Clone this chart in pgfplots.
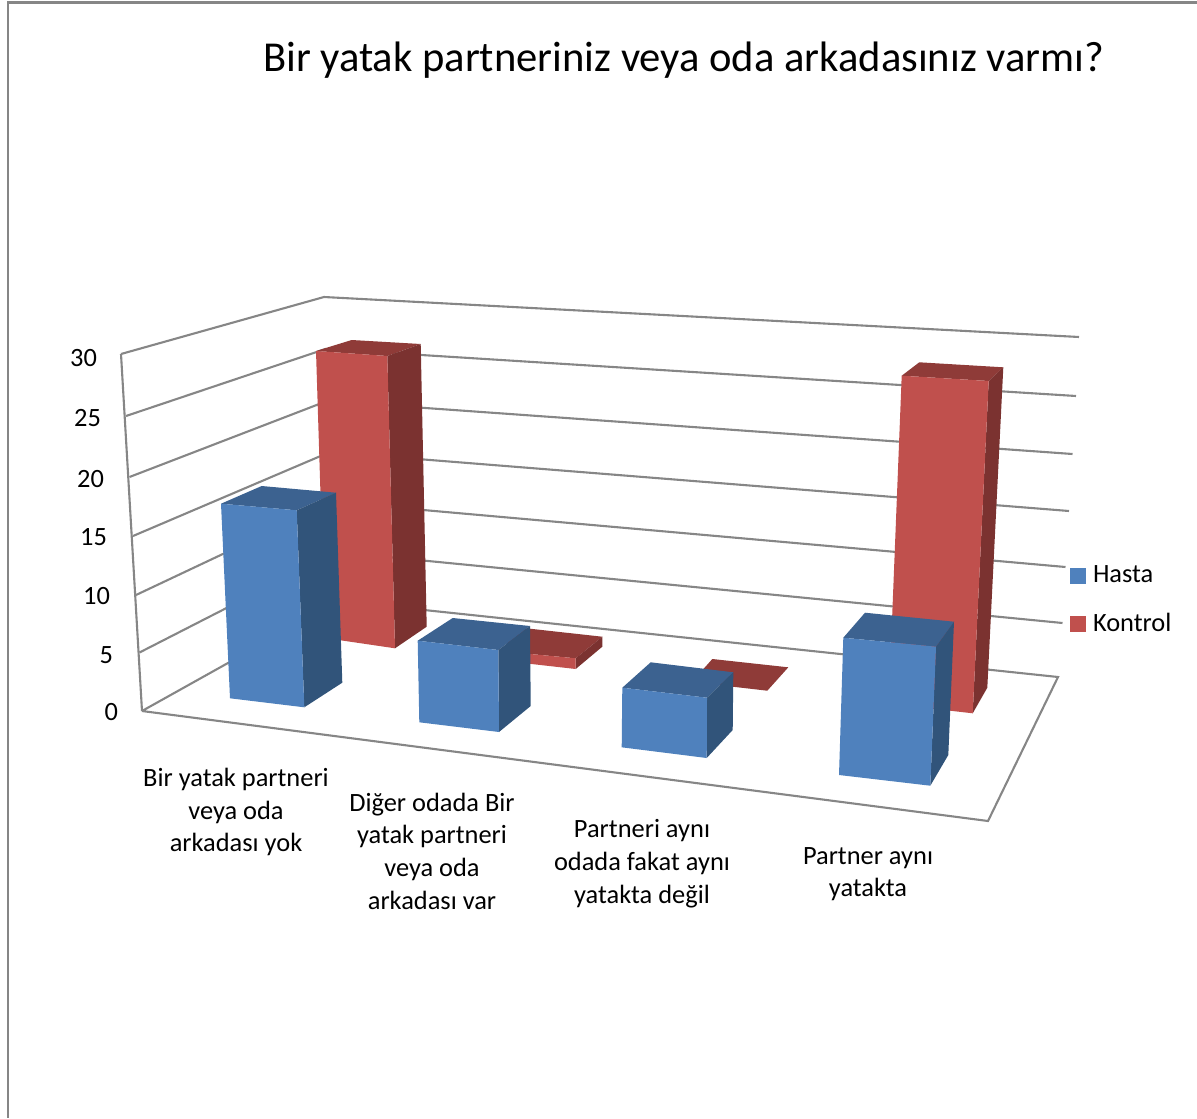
\documentclass[border=0pt]{standalone}
\usepackage{pgfplots}
\pgfplotsset{compat=1.18}
\usepackage{fontspec}
\setmainfont{Carlito}
\definecolor{gridgray}{HTML}{868686}
\definecolor{bluefront}{HTML}{4F81BD}
\definecolor{blueside}{HTML}{31547A}
\definecolor{bluetop}{HTML}{3C6290}
\definecolor{redfront}{HTML}{C0504D}
\definecolor{redside}{HTML}{7B3230}
\definecolor{redtop}{HTML}{8F3B38}
\pgfplotsset{
  wall/.style={draw=gridgray,line width=1.05pt,line join=miter,forget plot},
  front/.style={fill=#1front,draw=none,forget plot},
  side/.style={fill=#1side,draw=none,forget plot},
  top/.style={fill=#1top,draw=none,forget plot},
}
\newcommand{\ticknum}[2]{\node[anchor=east,font=\fontsize{13.2}{15}\selectfont] at (axis cs:#1) {#2};}
\newcommand{\catlabel}[2]{\node[align=center,font=\fontsize{13.2}{16.35}\selectfont] at (axis cs:#1) {#2};}
\begin{document}
\begin{tikzpicture}
\useasboundingbox (0,0) rectangle (598.5pt,559pt);
\begin{axis}[
  at={(0,0)},anchor=south west,
  width=598.5pt,height=559pt,scale only axis,
  xmin=0,xmax=1197,ymin=0,ymax=1118,y dir=reverse,
  hide axis,clip=false,
  legend style={at={(axis cs:1070,562)},anchor=north west,draw=none,fill=none,
    font=\fontsize{13.2}{15}\selectfont,row sep=9.5pt,
    inner sep=0pt,outer sep=0pt,cells={anchor=west},
    /tikz/every odd column/.append style={column sep=1.5pt}},
  legend cell align=left,
]
\addlegendimage{area legend,legend image code/.code={\fill[bluefront] (0pt,-3.85pt) rectangle (7.6pt,3.85pt);}}
\addlegendentry{Hasta}
\addlegendimage{area legend,legend image code/.code={\fill[redfront] (0pt,-3.85pt) rectangle (7.6pt,3.85pt);}}
\addlegendentry{Kontrol}

% chart border
\addplot[wall] coordinates {(1197,2.5) (8,2.5) (8,1118)};

% floor and left edge of the wall
\addplot[wall] coordinates {(142,711) (988,821) (1058,677) (339,601) (142,711)};
\addplot[wall] coordinates {(121,354) (142,711)};

% gridlines at 30, 25, 20, 15, 10, 5: side wall, then back wall
\addplot[wall] coordinates {(121,354) (324,297) (1079,337)};
\addplot[wall] coordinates {(126,416) (325.5,349) (1076,396)};
\addplot[wall] coordinates {(129.5,477) (327,401) (1072.5,454)};
\addplot[wall] coordinates {(133,536) (330,452) (1069,511)};
\addplot[wall] coordinates {(136,595) (333,502) (1065.5,567)};
\addplot[wall] coordinates {(139.5,652.5) (336,552) (1062.5,623)};

% Kontrol bars, furthest back
\addplot[top=red] coordinates {(316,351) (351.7,340) (420.7,344) (387.3,356)} -- cycle;
\addplot[side=red] coordinates {(387.3,356) (420.7,344) (426.7,626.7) (395,648.3)} -- cycle;
\addplot[front=red] coordinates {(316,351) (387.3,356) (395,648.3) (325,638)} -- cycle;

\addplot[top=red] coordinates {(505,651.6) (510,626.5) (602.3,636.7) (575.7,658.3)} -- cycle;
\addplot[side=red] coordinates {(575.7,658.3) (602.3,636.7) (602.3,646.7) (575.7,669)} -- cycle;
\addplot[front=red] coordinates {(505,651.6) (575.7,658.3) (575.7,669) (505,661)} -- cycle;

\addplot[top=red] coordinates {(691.8,682) (712.3,659) (788.3,667.3) (767.3,690.7)} -- cycle;

\addplot[top=red] coordinates {(901.7,375.7) (919.3,362.3) (1003.3,367.3) (988.7,381)} -- cycle;
\addplot[side=red] coordinates {(988.7,381) (1003.3,367.3) (987.3,687.7) (972.7,713.3)} -- cycle;
\addplot[front=red] coordinates {(901.7,375.7) (988.7,381) (972.7,713.3) (888.7,703.7)} -- cycle;

% Hasta bars, in front
\addplot[top=blue] coordinates {(221,503.7) (261.7,486) (336,492.7) (296.7,510.3)} -- cycle;
\addplot[side=blue] coordinates {(296.7,510.3) (336,492.7) (342.3,682.7) (304.3,707.3)} -- cycle;
\addplot[front=blue] coordinates {(221,503.7) (296.7,510.3) (304.3,707.3) (230,698.3)} -- cycle;

\addplot[top=blue] coordinates {(417.7,640.7) (452.7,618) (530,626) (498.3,650)} -- cycle;
\addplot[side=blue] coordinates {(498.3,650) (530,626) (530.7,706) (499,732)} -- cycle;
\addplot[front=blue] coordinates {(417.7,640.7) (498.3,650) (499,732) (419.3,722.3)} -- cycle;

\addplot[top=blue] coordinates {(622.3,687.7) (650.7,662.3) (733.3,672.3) (707,697.7)} -- cycle;
\addplot[side=blue] coordinates {(707,697.7) (733.3,672.3) (732.7,730) (706.7,758)} -- cycle;
\addplot[front=blue] coordinates {(622.3,687.7) (707,697.7) (706.7,758) (621.7,747.3)} -- cycle;

\addplot[top=blue] coordinates {(843.3,637.7) (865,612.7) (954,621.7) (936,646.7)} -- cycle;
\addplot[side=blue] coordinates {(936,646.7) (954,621.7) (948.3,755) (930.3,785.7)} -- cycle;
\addplot[front=blue] coordinates {(843.3,637.7) (936,646.7) (930.3,785.7) (839,775)} -- cycle;

% title
\node[font=\fontsize{21.3}{24}\selectfont] at (axis cs:683.5,60) {Bir yatak partneriniz veya oda arkadasınız varmı?};

% value axis numbers
\ticknum{104,358}{30}
\ticknum{108,418}{25}
\ticknum{111,479}{20}
\ticknum{114,537}{15}
\ticknum{117,596}{10}
\ticknum{120,655}{5}
\ticknum{125,712}{0}

% category names
\catlabel{236,812}{Bir yatak partneri\\veya oda\\arkadası yok}
\catlabel{432,851}{Diğer odada Bir\\yatak partneri\\veya oda\\arkadası var}
\catlabel{642,863.5}{Partneri aynı\\odada fakat aynı\\yatakta değil}
\catlabel{868,874}{Partner aynı\\yatakta}
\end{axis}
\end{tikzpicture}
\end{document}
